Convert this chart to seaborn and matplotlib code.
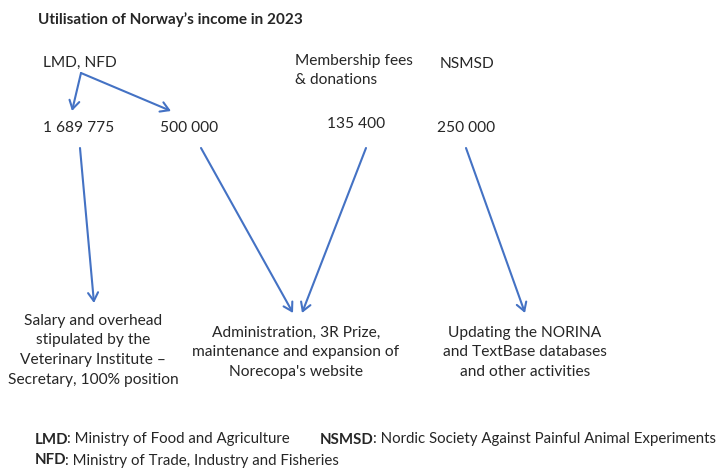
import matplotlib
matplotlib.use("Agg")
import matplotlib.pyplot as plt
import seaborn as sns

sns.set_theme(style="white")
plt.rcParams['font.family'] = ['Lato', 'DejaVu Sans']

title = "Utilisation of Norway\u2019s income in 2023"
sources = ["LMD, NFD", "Membership fees\n& donations", "NSMSD"]
amounts = ["1 689 775", "500 000", "135 400", "250 000"]
uses = ["Salary and overhead\nstipulated by the\nVeterinary Institute \u2013\nSecretary, 100% position",
        "Administration, 3R Prize,\nmaintenance and expansion of\nNorecopa's website",
        "Updating the NORINA\nand TextBase databases\nand other activities"]
footnotes = [("LMD", ": Ministry of Food and Agriculture"),
             ("NSMSD", ": Nordic Society Against Painful Animal Experiments"),
             ("NFD", ": Ministry of Trade, Industry and Fisheries")]

BLUE = "#4472C4"
FS = 11.2
LINE = 19.7

fig = plt.figure(figsize=(7.19, 4.68), dpi=100)
ax = fig.add_axes([0, 0, 1, 1])
ax.set_xlim(0, 719)
ax.set_ylim(468, 0)
ax.axis("off")


def block(x, y, s, ha):
    for i, line in enumerate(s.split("\n")):
        ax.text(x, y + i * LINE, line, fontsize=FS, va="center_baseline", ha=ha)


ax.text(38, 18, title, fontsize=10.95, fontweight="bold", va="center_baseline", ha="left")

# sources
block(43, 61, sources[0], "left")
block(295, 59, sources[1], "left")
block(440, 62, sources[2], "left")

# amounts
amt_pos = [(43, 127), (160, 127), (327, 122), (437, 127)]
for a, (x, y) in zip(amounts, amt_pos):
    ax.text(x, y, a, fontsize=FS, va="center_baseline", ha="left")

# uses
block(93, 319, uses[0], "center")
block(296, 331, uses[1], "center")
block(525, 331, uses[2], "center")

arrows = [((81, 73), (72, 111)), ((81, 73), (171, 111)),
          ((80, 148), (94, 303)), ((201, 148), (293, 313)),
          ((366, 148), (302, 313)), ((466, 148), (525, 313))]
for (x0, y0), (x1, y1) in arrows:
    ax.annotate("", xy=(x1, y1), xytext=(x0, y0),
                arrowprops=dict(arrowstyle="->,head_length=0.5,head_width=0.3",
                                color=BLUE, lw=1.5, shrinkA=0, shrinkB=0))

# footnotes
fpos = [(35, 438), (320, 438), (35, 459)]
fig.canvas.draw()
for (b, rest), (x, y) in zip(footnotes, fpos):
    t = ax.text(x, y, b, fontsize=10.8, fontweight="bold", va="center_baseline", ha="left")
    fig.canvas.draw()
    bb = t.get_window_extent()
    x2 = ax.transData.inverted().transform((bb.x1, 0))[0] - 1.2
    ax.text(x2, y, rest, fontsize=10.8, va="center_baseline", ha="left")

fig.savefig("out.png", dpi=100)
